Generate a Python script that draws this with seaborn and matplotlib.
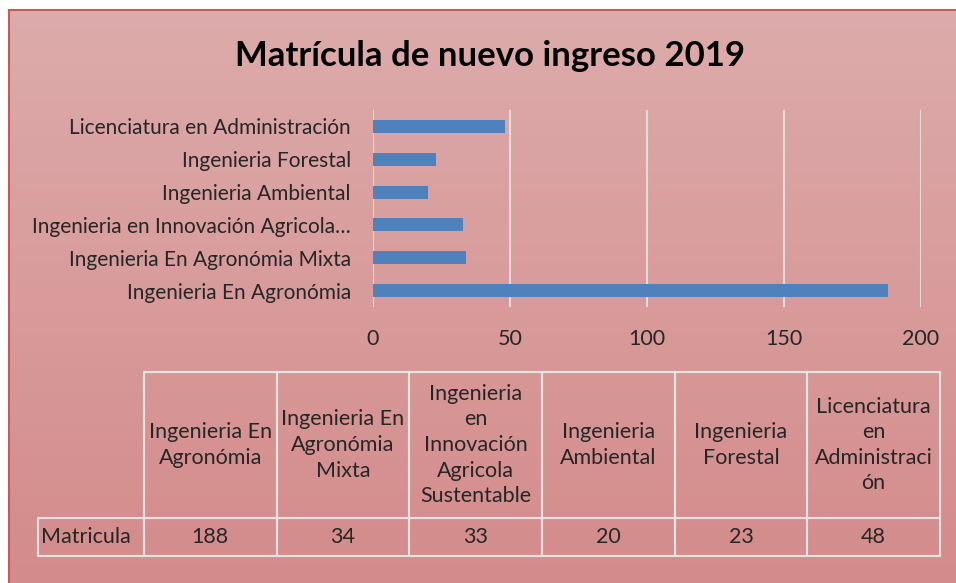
import numpy as np
import pandas as pd
import seaborn as sns
import matplotlib.pyplot as plt
from matplotlib.colors import LinearSegmentedColormap

# data
programas = ["Ingenieria En Agronómia",
             "Ingenieria En Agronómia Mixta",
             "Ingenieria en Innovación Agricola Sustentable",
             "Ingenieria Ambiental",
             "Ingenieria Forestal",
             "Licenciatura en Administración"]
matricula = [188, 34, 33, 20, 23, 48]
etiquetas_eje = ["Ingenieria En Agronómia",
                 "Ingenieria En Agronómia Mixta",
                 "Ingenieria en Innovación Agricola…",
                 "Ingenieria Ambiental",
                 "Ingenieria Forestal",
                 "Licenciatura en Administración"]
encabezados_tabla = ["Ingenieria En\nAgronómia",
                     "Ingenieria En\nAgronómia\nMixta",
                     "Ingenieria\nen\nInnovación\nAgricola\nSustentable",
                     "Ingenieria\nAmbiental",
                     "Ingenieria\nForestal",
                     "Licenciatura\nen\nAdministraci\nón"]
xticks = [0, 50, 100, 150, 200]

sns.set_style("white")
plt.rcParams['font.family'] = ['Lato', 'DejaVu Sans']

df = pd.DataFrame({"programa": programas, "matricula": matricula})

fig = plt.figure(figsize=(9.56, 5.83), dpi=100)
fig.patch.set_facecolor("white")

# gradient background of the chart area
bg = fig.add_axes([9/956, 0, 1 - 9/956, 1 - 10/583])
cmap = LinearSegmentedColormap.from_list("rosa", ["#DDABAB", "#D48B8B"])
bg.imshow(np.linspace(0, 1, 256).reshape(-1, 1), aspect="auto", cmap=cmap,
          extent=[0, 1, 0, 1], origin="upper")
bg.set_xlim(0, 1)
bg.set_ylim(0, 1)
bg.set_xticks([])
bg.set_yticks([])
for side in ["right", "bottom"]:
    bg.spines[side].set_visible(False)
for side in ["top", "left"]:
    bg.spines[side].set_color("#C9585A")
    bg.spines[side].set_linewidth(1.5)

fig.text(490/956, 1 - 56/583, "Matrícula de nuevo ingreso 2019",
         ha="center", va="center", fontsize=25, fontweight="bold", color="black")

# bar chart
ax = fig.add_axes([373/956, 1 - 307/583, 548/956, 197/583])
ax.patch.set_alpha(0)
orden = programas[::-1]
sns.barplot(data=df, y="programa", x="matricula", order=orden, orient="h",
            color="#4F81BD", saturation=1, width=0.4, linewidth=0, ax=ax, zorder=3)
ax.set_xlim(0, 200)
ax.set_ylim(5.5, -0.5)
ax.set_xticks(xticks)
ax.set_yticks(range(len(orden)))
ax.set_yticklabels(etiquetas_eje[::-1])
ax.set_xlabel("")
ax.set_ylabel("")
ax.grid(axis="x", color="#E0DCDC", linewidth=1.5, zorder=0)
for s in ax.spines.values():
    s.set_visible(False)
ax.axvline(0, color="#E0DCDC", linewidth=1.5, zorder=1)
ax.tick_params(axis="x", length=0, pad=16, labelsize=15.5)
ax.tick_params(axis="y", length=0, pad=16, labelsize=15)

# data table
tax = fig.add_axes([38/956, 1 - 556/583, 902/956, 184/583])
tax.axis("off")
celdas = [[""] + encabezados_tabla, ["Matricula"] + [str(v) for v in matricula]]
tabla = tax.table(cellText=celdas, cellLoc="center", loc="center",
                  bbox=[0, 0, 1, 1])
tabla.auto_set_font_size(False)
tabla.set_fontsize(15.5)
for (r, c), cell in tabla.get_celld().items():
    cell.set_facecolor("none")
    cell.set_edgecolor("#E8E4E4")
    cell.set_linewidth(1.5)
    cell.set_height(146 if r == 0 else 38)
    cell.set_width(106 if c == 0 else 132.7)
    cell.get_text().set_linespacing(1.35)
    if r == 0 and c == 0:
        cell.visible_edges = ""
    if r == 1 and c == 0:
        cell.get_text().set_ha("left")
        cell.PAD = 0.03

fig.savefig("out.png", dpi=100)
